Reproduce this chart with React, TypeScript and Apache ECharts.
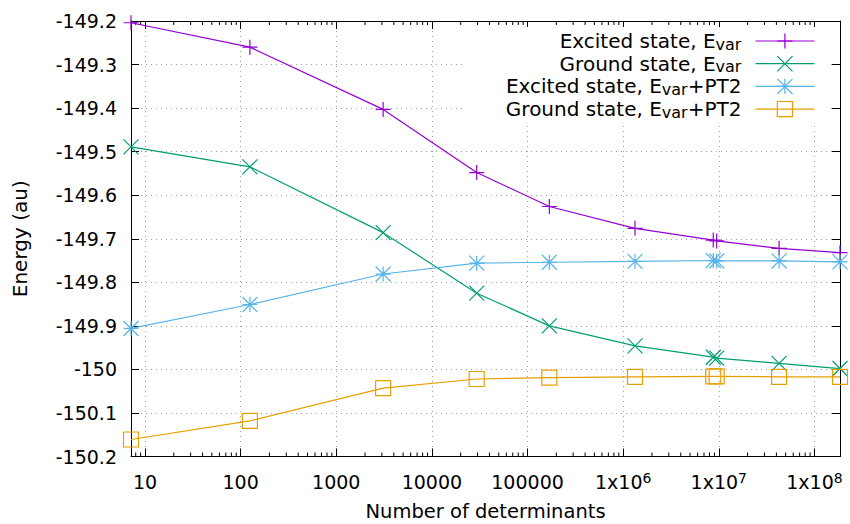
import React, { useEffect, useRef } from 'react';
import * as echarts from 'echarts';

const determinants = [7.14, 125, 3090, 29400, 169000, 1330000, 8750000, 9500000, 42700000, 185000000];
const excitedVar = [-149.204, -149.26, -149.403, -149.548, -149.626, -149.676, -149.703, -149.705, -149.722, -149.732];
const groundVar = [-149.489, -149.535, -149.686, -149.825, -149.9, -149.946, -149.972, -149.974, -149.986, -149.998];
const excitedPT2 = [-149.906, -149.851, -149.781, -149.756, -149.754, -149.752, -149.75, -149.751, -149.751, -149.753];
const groundPT2 = [-150.161, -150.118, -150.043, -150.022, -150.019, -150.017, -150.016, -150.016, -150.017, -150.017];

const seriesNames = ['Excited state, Evar', 'Ground state, Evar', 'Excited state, Evar+PT2', 'Ground state, Evar+PT2'];
const legendLabels = ['Excited state, E{sub|var}', 'Ground state, E{sub|var}', 'Excited state, E{sub|var}+PT2', 'Ground state, E{sub|var}+PT2'];
const seriesColors = ['#9400d3', '#009e73', '#56b4e9', '#e69f00'];
const energyMin = -150.2;
const energyMax = -149.2;
const energyStep = 0.1;
const decadeExponents = [0, 1, 2, 3, 4, 5, 6, 7, 8];
const minorMultipliers = [2, 3, 4, 5, 6, 7, 8, 9];
const xTitle = 'Number of determinants';
const yTitle = 'Energy (au)';

const FONT = 'DejaVu Sans';
const SYMBOLS = [
  'path://M0,-1L0,1M-1,0L1,0',
  'path://M-1,-1L1,1M-1,1L1,-1',
  'path://M0,-1L0,1M-1,0L1,0M-1,-1L1,1M-1,1L1,-1',
  'path://M-1,-1L1,-1L1,1L-1,1L-1,-1L-1,1L1,1L1,-1L-1,-1',
];

function buildOption() {
  const seriesValues = [excitedVar, groundVar, excitedPT2, groundPT2];
  const xMin = determinants[0];
  const xMax = determinants[determinants.length - 1];
  const minorTicks: number[] = [];
  decadeExponents.forEach((e) => {
    minorMultipliers.forEach((m) => {
      const v = m * Math.pow(10, e);
      if (v > xMin && v < xMax) minorTicks.push(v);
    });
  });

  const lineSeries = seriesValues.map((vals, i) => ({
    type: 'line',
    name: seriesNames[i],
    xAxisIndex: 0,
    yAxisIndex: 0,
    data: determinants.map((d, j) => [d, vals[j]]),
    symbol: SYMBOLS[i],
    symbolSize: 15,
    showSymbol: true,
    clip: false,
    z: 3,
    lineStyle: { color: seriesColors[i], width: 1.2 },
    itemStyle: { color: seriesColors[i], borderColor: seriesColors[i], borderWidth: 1.2 },
    emphasis: { disabled: true },
  }));

  const legends = seriesNames.map((name, i) => ({
    data: [name],
    right: 35,
    top: [30, 52.7, 75.4, 98.1][i],
    orient: 'horizontal',
    align: 'right',
    padding: 0,
    itemGap: 0,
    itemWidth: 59,
    itemHeight: 19,
    selectedMode: false,
    formatter: () => legendLabels[i],
    itemStyle: { color: seriesColors[i], borderColor: seriesColors[i], borderWidth: 1.2 },
    lineStyle: { color: seriesColors[i], width: 1.2 },
    textStyle: {
      fontFamily: FONT,
      fontSize: 20,
      lineHeight: 22,
      color: '#000',
      padding: [0, 9, 0, 0],
      rich: {
        sub: { fontFamily: FONT, fontSize: 16, lineHeight: 8, verticalAlign: 'bottom', color: '#000' },
      },
    },
  }));

  return {
    animation: false,
    backgroundColor: '#fff',
    grid: { left: 131, right: 10, top: 21, bottom: 67.5, containLabel: false, outerBoundsMode: 'none' },
    legend: legends,
    graphic: [
      {
        type: 'rect',
        silent: true,
        z: 1,
        shape: { x: 463, y: 27, width: 368, height: 95 },
        style: { fill: '#fff' },
      },
    ],
    xAxis: [
      {
        type: 'log',
        logBase: 10,
        min: xMin,
        max: xMax,
        position: 'bottom',
        name: xTitle,
        nameLocation: 'middle',
        nameGap: 46,
        nameTextStyle: { fontFamily: FONT, fontSize: 19.5, lineHeight: 18, color: '#000' },
        axisLine: { show: true, onZero: false, lineStyle: { color: '#000', width: 1 } },
        axisTick: { show: true, inside: true, length: 8, lineStyle: { color: '#000', width: 1 } },
        minorTick: { show: false },
        axisLabel: {
          show: true,
          showMinLabel: false,
          showMaxLabel: false,
          margin: 14,
          color: '#000',
          fontFamily: FONT,
          fontSize: 19,
          lineHeight: 22,
          formatter: (v: number) => {
            const e = Math.round(Math.log10(v));
            if (e >= 6) return '1x10{sup|' + e + '}';
            return String(Math.round(Math.pow(10, e)));
          },
          rich: {
            sup: { fontFamily: FONT, fontSize: 14, lineHeight: 10, verticalAlign: 'top', color: '#000' },
          },
        },
        splitLine: { show: true, lineStyle: { color: '#a0a0a0', width: 1, type: [1, 4] } },
      },
      {
        type: 'log',
        logBase: 10,
        min: xMin,
        max: xMax,
        position: 'top',
        axisLine: { show: true, onZero: false, lineStyle: { color: '#000', width: 1 } },
        axisTick: { show: true, inside: true, length: 8, lineStyle: { color: '#000', width: 1 } },
        axisLabel: { show: false },
        splitLine: { show: false },
      },
    ],
    yAxis: [
      {
        type: 'value',
        min: energyMin,
        max: energyMax,
        interval: energyStep,
        position: 'left',
        name: yTitle,
        nameLocation: 'middle',
        nameGap: 100,
        nameTextStyle: { fontFamily: FONT, fontSize: 20, lineHeight: 22, color: '#000' },
        axisLine: { show: true, onZero: false, lineStyle: { color: '#000', width: 1 } },
        axisTick: { show: true, inside: true, length: 8, lineStyle: { color: '#000', width: 1 } },
        axisLabel: { color: '#000', fontFamily: FONT, fontSize: 19, lineHeight: 22, margin: 14 },
        splitLine: { show: true, lineStyle: { color: '#a0a0a0', width: 1, type: [1, 4] } },
      },
      {
        type: 'value',
        min: energyMin,
        max: energyMax,
        interval: energyStep,
        position: 'right',
        axisLine: { show: true, onZero: false, lineStyle: { color: '#000', width: 1 } },
        axisTick: { show: true, inside: true, length: 8, lineStyle: { color: '#000', width: 1 } },
        axisLabel: { show: false },
        splitLine: { show: false },
      },
    ],
    series: [
      {
        type: 'custom',
        name: 'minor ticks',
        xAxisIndex: 0,
        yAxisIndex: 0,
        silent: true,
        clip: false,
        z: 2,
        data: minorTicks.map((v) => [v, energyMin]),
        encode: { x: 0, y: 1 },
        renderItem: (_params: any, api: any) => {
          const v = api.value(0);
          const b = api.coord([v, energyMin]);
          const t = api.coord([v, energyMax]);
          return {
            type: 'group',
            children: [
              { type: 'line', shape: { x1: b[0], y1: b[1], x2: b[0], y2: b[1] - 4 }, style: { stroke: '#000', lineWidth: 1 } },
              { type: 'line', shape: { x1: t[0], y1: t[1], x2: t[0], y2: t[1] + 4 }, style: { stroke: '#000', lineWidth: 1 } },
            ],
          };
        },
      },
      ...lineSeries,
    ],
  };
}

export default function App() {
  const ref = useRef<HTMLDivElement>(null);
  useEffect(() => {
    if (!ref.current) return;
    const chart = echarts.init(ref.current, null, { renderer: 'svg' });
    chart.setOption(buildOption() as any);
    return () => chart.dispose();
  }, []);
  return (
    <div
      ref={ref}
      style={{ position: 'fixed', left: 0, top: 0, width: 850, height: 524, background: '#fff' }}
    />
  );
}
